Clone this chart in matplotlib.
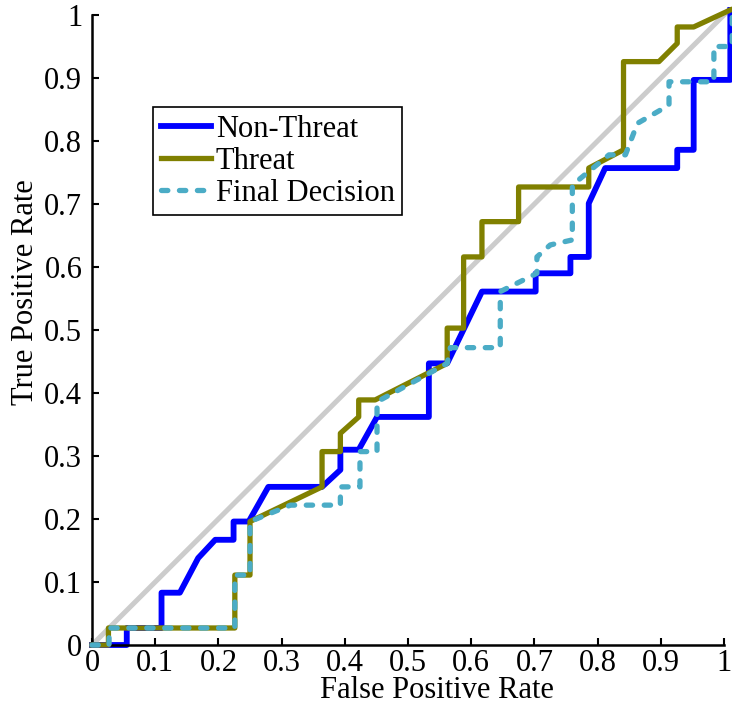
import matplotlib
matplotlib.use("Agg")
import matplotlib.pyplot as plt

plt.rcParams['font.family'] = ['Liberation Serif', 'DejaVu Serif']

# ROC curves (false positive rate, true positive rate)
nonthreat_fpr = [0.0, 0.055, 0.055, 0.110, 0.110, 0.139, 0.168, 0.195, 0.224, 0.224, 0.248,
                 0.279, 0.364, 0.393, 0.393, 0.422, 0.451, 0.533, 0.533, 0.562, 0.617,
                 0.702, 0.702, 0.757, 0.757, 0.786, 0.786, 0.812, 0.926, 0.926, 0.952,
                 0.952, 1.010, 1.010]
nonthreat_tpr = [0.0, 0.0, 0.027, 0.027, 0.083, 0.083, 0.138, 0.167, 0.167, 0.196, 0.196,
                 0.251, 0.251, 0.278, 0.310, 0.310, 0.362, 0.362, 0.447, 0.447, 0.561,
                 0.561, 0.590, 0.590, 0.616, 0.616, 0.701, 0.757, 0.757, 0.786, 0.786,
                 0.897, 0.897, 1.008]

threat_fpr = [0.0, 0.026, 0.026, 0.226, 0.226, 0.250, 0.250, 0.364, 0.364, 0.393, 0.393,
              0.422, 0.422, 0.448, 0.562, 0.562, 0.588, 0.588, 0.617, 0.617, 0.675,
              0.675, 0.786, 0.786, 0.841, 0.841, 0.897, 0.926, 0.926, 0.952, 1.010]
threat_tpr = [0.0, 0.0, 0.027, 0.027, 0.111, 0.111, 0.196, 0.251, 0.307, 0.307, 0.336,
              0.362, 0.389, 0.389, 0.447, 0.503, 0.503, 0.616, 0.616, 0.672, 0.672,
              0.727, 0.727, 0.757, 0.786, 0.926, 0.926, 0.955, 0.981, 0.981, 1.008]

final_fpr = [0.0, 0.027, 0.027, 0.226, 0.226, 0.250, 0.250, 0.314, 0.393, 0.393, 0.424,
             0.424, 0.451, 0.451, 0.562, 0.567, 0.646, 0.646, 0.704, 0.704, 0.725,
             0.760, 0.760, 0.818, 0.844, 0.863, 0.913, 0.913, 0.984, 0.984, 1.013, 1.013]
final_tpr = [0.0, 0.0, 0.027, 0.027, 0.111, 0.111, 0.196, 0.222, 0.222, 0.251, 0.251,
             0.307, 0.307, 0.386, 0.447, 0.472, 0.472, 0.561, 0.590, 0.616, 0.635,
             0.643, 0.730, 0.778, 0.778, 0.828, 0.857, 0.894, 0.894, 0.950, 0.950, 1.008]

chance = [0.0, 1.010]
ticks = [0, 0.1, 0.2, 0.3, 0.4, 0.5, 0.6, 0.7, 0.8, 0.9, 1]
tick_labels = ['0', '0.1', '0.2', '0.3', '0.4', '0.5', '0.6', '0.7', '0.8', '0.9', '1']

fig = plt.figure(figsize=(7.32, 7.17), dpi=100)
ax = fig.add_axes([92 / 732, (717 - 645) / 717, 632 / 732, 630 / 717])

# random-guess diagonal, then the three curves on top
ax.plot(chance, chance, color='#cccccc', lw=3.6, zorder=1, clip_on=False,
        solid_capstyle='butt')
ax.plot(nonthreat_fpr, nonthreat_tpr, color='#0000ff', lw=4.2, label='Non-Threat',
        zorder=2, clip_on=False)
ax.plot(threat_fpr, threat_tpr, color='#808000', lw=3.8, label='Threat',
        zorder=3, clip_on=False)
ax.plot(final_fpr, final_tpr, color='#4bacc6', lw=3.8, ls=(0, (1.2, 2.2)),
        dash_capstyle='round', label='Final Decision', zorder=4, clip_on=False)

ax.set_xlim(0, 1)
ax.set_ylim(0, 1)
ax.set_xticks(ticks)
ax.set_xticklabels(tick_labels)
ax.set_yticks(ticks)
ax.set_yticklabels(tick_labels)
ax.tick_params(direction='in', length=5, width=1.5, labelsize=22)
ax.tick_params(axis='y', pad=7)
ax.tick_params(axis='x', pad=3)
for side in ('top', 'right'):
    ax.spines[side].set_visible(False)
for side in ('left', 'bottom'):
    ax.spines[side].set_linewidth(1.8)

ax.set_xlabel('False Positive Rate', fontsize=22)
ax.set_ylabel('True Positive Rate', fontsize=22)
ax.xaxis.set_label_coords(0.546, -0.050)
ax.yaxis.set_label_coords(-0.083, 0.560)

leg = ax.legend(loc='upper left', bbox_to_anchor=(0.0965, 0.854), fontsize=22,
                frameon=True, fancybox=False, handlelength=1.64, handletextpad=0.16,
                borderpad=0.25, labelspacing=0.1, borderaxespad=0)
leg.get_frame().set_edgecolor('black')
leg.get_frame().set_linewidth(1.2)
leg.get_frame().set_alpha(1)

fig.savefig('out.png', dpi=100)
